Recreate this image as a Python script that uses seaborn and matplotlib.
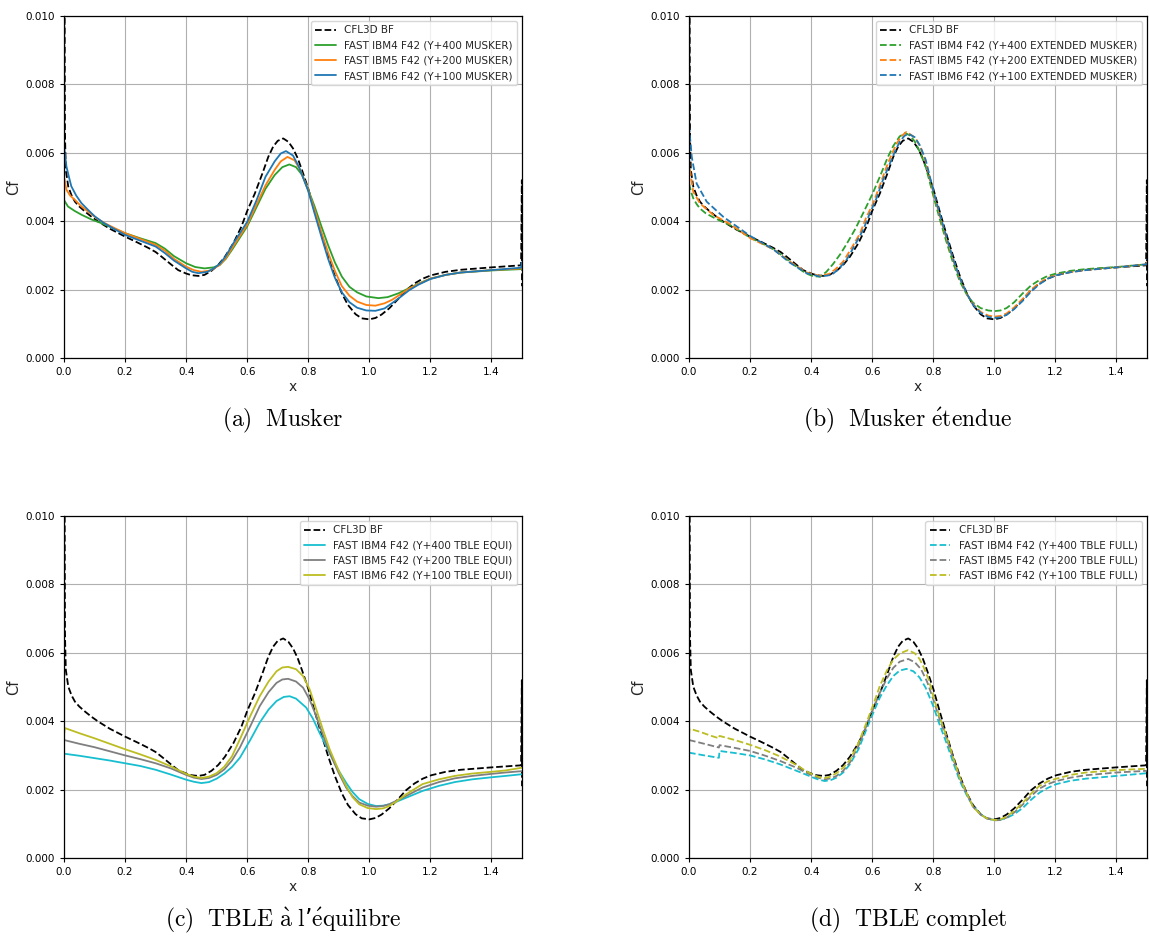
import matplotlib
matplotlib.use("Agg")
import matplotlib.pyplot as plt
import matplotlib.ticker as mticker
import seaborn as sns

# CFL3D reference (same curve in every panel)
x_ref = [0.0, 0.001, 0.003, 0.006, 0.014, 0.025, 0.036, 0.05, 0.069, 0.09, 0.112, 0.15, 0.2, 0.24,
         0.276, 0.3, 0.32, 0.35, 0.374, 0.4, 0.418, 0.44, 0.46, 0.483, 0.505, 0.527, 0.555, 0.581,
         0.6, 0.625, 0.65, 0.669, 0.685, 0.7, 0.718, 0.735, 0.75, 0.765, 0.78, 0.8, 0.82, 0.843,
         0.865, 0.887, 0.91, 0.93, 0.955, 0.975, 1.0, 1.02, 1.04, 1.065, 1.094, 1.12, 1.148, 1.175,
         1.203, 1.25, 1.3, 1.4, 1.497, 1.4995, 1.5]
cf_ref = [0.0, 0.012, 0.0066, 0.0055, 0.00501, 0.00475, 0.00457, 0.00443, 0.00428, 0.00413,
          0.00399, 0.00378, 0.00355, 0.00338, 0.00322, 0.0031, 0.00296, 0.00274, 0.00257, 0.00247,
          0.00242, 0.0024, 0.00243, 0.00255, 0.00272, 0.00296, 0.00336, 0.00384, 0.0043, 0.00481,
          0.0054, 0.00588, 0.00618, 0.00635, 0.00642, 0.00632, 0.00613, 0.00585, 0.00548, 0.00495,
          0.00432, 0.00362, 0.00298, 0.0024, 0.00189, 0.00155, 0.00128, 0.00116, 0.00113, 0.00117,
          0.00127, 0.00145, 0.00172, 0.00198, 0.00218, 0.00232, 0.00242, 0.00252, 0.00258, 0.00265,
          0.00271, 0.0052, 0.0021]

# (a) Musker
x_a4 = [0.0, 0.013, 0.035, 0.057, 0.09, 0.123, 0.16, 0.2, 0.25, 0.3, 0.33, 0.36, 0.4, 0.43, 0.46,
        0.49, 0.51, 0.53, 0.553, 0.6, 0.63, 0.66, 0.69, 0.715, 0.738, 0.76, 0.78, 0.8, 0.82, 0.843,
        0.865, 0.887, 0.91, 0.935, 0.96, 0.99, 1.03, 1.06, 1.095, 1.13, 1.16, 1.2, 1.25, 1.3, 1.4, 1.5]
cf_a4 = [0.00462, 0.00443, 0.0043, 0.00419, 0.00405, 0.00394, 0.0038, 0.00365, 0.0035, 0.00336,
         0.0032, 0.00298, 0.00277, 0.00266, 0.00262, 0.00265, 0.00272, 0.0029, 0.0032, 0.00385,
         0.0044, 0.00495, 0.00535, 0.00558, 0.00566, 0.00558, 0.00535, 0.00492, 0.00445, 0.00385,
         0.0033, 0.0028, 0.00238, 0.00208, 0.00192, 0.0018, 0.00175, 0.00178, 0.00189, 0.00204,
         0.00217, 0.00232, 0.00243, 0.0025, 0.00256, 0.0026]
x_a5 = [0.0, 0.008, 0.02, 0.035, 0.055, 0.079, 0.105, 0.134, 0.165, 0.2, 0.25, 0.3, 0.33, 0.36, 0.4,
        0.425, 0.45, 0.48, 0.51, 0.53, 0.553, 0.6, 0.63, 0.66, 0.69, 0.71, 0.732, 0.755, 0.775, 0.8,
        0.82, 0.843, 0.865, 0.887, 0.91, 0.935, 0.96, 0.99, 1.02, 1.05, 1.074, 1.1, 1.13, 1.16, 1.2,
        1.25, 1.3, 1.4, 1.5]
cf_a5 = [0.0053, 0.00492, 0.00475, 0.00463, 0.00445, 0.00428, 0.0041, 0.00394, 0.0038, 0.00365,
         0.00348, 0.00331, 0.00314, 0.0029, 0.00267, 0.00257, 0.00252, 0.00256, 0.00272, 0.00292,
         0.00325, 0.0039, 0.00448, 0.00505, 0.0055, 0.00575, 0.00588, 0.00578, 0.00548, 0.0049,
         0.00435, 0.00368, 0.00308, 0.00255, 0.0021, 0.00182, 0.00165, 0.00155, 0.00153, 0.0016,
         0.0017, 0.00185, 0.00203, 0.00216, 0.00232, 0.00243, 0.0025, 0.00257, 0.00262]
x_a6 = [0.0, 0.008, 0.016, 0.024, 0.04, 0.057, 0.08, 0.101, 0.13, 0.165, 0.2, 0.25, 0.3, 0.33, 0.36,
        0.4, 0.42, 0.44, 0.47, 0.49, 0.51, 0.53, 0.553, 0.6, 0.63, 0.66, 0.69, 0.71, 0.727, 0.75,
        0.77, 0.8, 0.82, 0.843, 0.865, 0.887, 0.91, 0.935, 0.96, 0.99, 1.02, 1.05, 1.074, 1.1, 1.13,
        1.16, 1.2, 1.25, 1.3, 1.4, 1.497, 1.5]
cf_a6 = [0.0062, 0.0056, 0.0053, 0.00502, 0.00475, 0.00453, 0.00432, 0.00414, 0.00395, 0.00377,
         0.0036, 0.00343, 0.00326, 0.00307, 0.00285, 0.00262, 0.00252, 0.00248, 0.00252, 0.00262,
         0.00275, 0.00298, 0.00333, 0.00398, 0.0046, 0.0053, 0.00575, 0.00598, 0.00605, 0.00592,
         0.00558, 0.00488, 0.00425, 0.00355, 0.0029, 0.00235, 0.00192, 0.00163, 0.00147, 0.00139,
         0.00138, 0.00145, 0.0016, 0.00177, 0.00198, 0.00214, 0.00231, 0.00243, 0.0025, 0.00257,
         0.00264, 0.0028]

# (b) Musker etendue
x_b4 = [0.0, 0.007, 0.014, 0.025, 0.036, 0.055, 0.08, 0.105, 0.134, 0.165, 0.2, 0.24, 0.276, 0.3,
        0.33, 0.355, 0.374, 0.39, 0.407, 0.429, 0.45, 0.472, 0.495, 0.516, 0.545, 0.57, 0.6, 0.625,
        0.65, 0.669, 0.69, 0.708, 0.725, 0.74, 0.756, 0.775, 0.8, 0.82, 0.843, 0.865, 0.887, 0.91,
        0.93, 0.955, 0.98, 1.0, 1.02, 1.04, 1.065, 1.094, 1.12, 1.148, 1.175, 1.203, 1.25, 1.3, 1.4,
        1.498, 1.5]
cf_b4 = [0.0051, 0.00485, 0.00467, 0.0045, 0.00437, 0.00423, 0.00411, 0.004, 0.00389, 0.00372,
         0.00352, 0.00335, 0.00318, 0.00303, 0.00282, 0.00265, 0.00253, 0.00245, 0.00239, 0.00238,
         0.00252, 0.00275, 0.00303, 0.00333, 0.00378, 0.00423, 0.00478, 0.0053, 0.00585, 0.0062,
         0.00648, 0.00658, 0.0065, 0.00632, 0.00603, 0.0056, 0.00475, 0.0041, 0.0034, 0.00278,
         0.00224, 0.00185, 0.00162, 0.00146, 0.00139, 0.00137, 0.00139, 0.00146, 0.00163, 0.0019,
         0.00212, 0.00228, 0.0024, 0.00247, 0.00255, 0.0026, 0.00266, 0.00274, 0.0028]
x_b5 = [0.0, 0.003, 0.014, 0.036, 0.08, 0.134, 0.2, 0.276, 0.33, 0.385, 0.429, 0.46, 0.48, 0.505,
        0.53, 0.56, 0.58, 0.603, 0.625, 0.647, 0.665, 0.68, 0.695, 0.712, 0.74, 0.756, 0.775, 0.8,
        0.82, 0.843, 0.865, 0.887, 0.91, 0.93, 0.955, 0.98, 1.0, 1.02, 1.04, 1.065, 1.094, 1.12,
        1.148, 1.175, 1.203, 1.25, 1.3, 1.4, 1.498, 1.5]
cf_b5 = [0.0058, 0.0055, 0.00486, 0.00452, 0.00418, 0.00392, 0.00351, 0.00318, 0.00282, 0.0025,
         0.0024, 0.00246, 0.0026, 0.00282, 0.00318, 0.00364, 0.0041, 0.00452, 0.00505, 0.00559,
         0.00598, 0.00627, 0.00648, 0.00661, 0.00645, 0.0062, 0.00575, 0.00485, 0.0042, 0.0035,
         0.00287, 0.00232, 0.00187, 0.00158, 0.00135, 0.00124, 0.00121, 0.00123, 0.0013, 0.00148,
         0.00174, 0.00199, 0.0022, 0.00234, 0.00243, 0.00251, 0.00257, 0.00265, 0.00274, 0.0029]
x_b6 = [0.0, 0.009, 0.025, 0.058, 0.112, 0.2, 0.276, 0.33, 0.385, 0.429, 0.467, 0.49, 0.516, 0.54,
        0.57, 0.59, 0.614, 0.635, 0.658, 0.675, 0.69, 0.705, 0.718, 0.74, 0.756, 0.775, 0.8, 0.82,
        0.843, 0.865, 0.887, 0.91, 0.93, 0.955, 0.98, 1.0, 1.02, 1.04, 1.065, 1.094, 1.12, 1.148,
        1.175, 1.203, 1.25, 1.3, 1.4, 1.498, 1.5]
cf_b6 = [0.0068, 0.00588, 0.0051, 0.00457, 0.00413, 0.00357, 0.00318, 0.00279, 0.00248, 0.00238,
         0.00243, 0.0026, 0.00287, 0.00325, 0.00374, 0.00418, 0.00467, 0.0052, 0.00569, 0.00605,
         0.00632, 0.00649, 0.00656, 0.00645, 0.00622, 0.0058, 0.0049, 0.00425, 0.00355, 0.0029,
         0.00234, 0.00188, 0.00156, 0.00132, 0.0012, 0.00117, 0.00119, 0.00126, 0.00143, 0.00168,
         0.00194, 0.00216, 0.00232, 0.00242, 0.00251, 0.00257, 0.00265, 0.00274, 0.0029]

# (c) TBLE a l'equilibre
x_c4 = [0.0, 0.05, 0.1, 0.15, 0.2, 0.25, 0.3, 0.35, 0.4, 0.425, 0.45, 0.475, 0.5, 0.525, 0.55,
        0.576, 0.61, 0.641, 0.67, 0.696, 0.72, 0.739, 0.76, 0.793, 0.815, 0.837, 0.86, 0.88, 0.9,
        0.924, 0.945, 0.967, 0.995, 1.022, 1.045, 1.065, 1.09, 1.12, 1.174, 1.228, 1.28, 1.337,
        1.4, 1.446, 1.5]
cf_c4 = [0.00305, 0.00299, 0.00292, 0.00285, 0.00277, 0.00269, 0.00258, 0.00244, 0.00229,
         0.00223, 0.00219, 0.00222, 0.00232, 0.00247, 0.00266, 0.00293, 0.00345, 0.00396, 0.00434,
         0.00459, 0.00471, 0.00473, 0.00466, 0.0044, 0.00408, 0.00366, 0.00325, 0.00289, 0.00255,
         0.0022, 0.00193, 0.00172, 0.00158, 0.00152, 0.00153, 0.00157, 0.00165, 0.00176, 0.00196,
         0.00211, 0.00222, 0.0023, 0.00236, 0.0024, 0.00245]
x_c5 = [0.0, 0.05, 0.1, 0.15, 0.2, 0.25, 0.3, 0.35, 0.4, 0.425, 0.45, 0.475, 0.5, 0.525, 0.55,
        0.576, 0.61, 0.641, 0.67, 0.696, 0.715, 0.734, 0.76, 0.783, 0.805, 0.826, 0.848, 0.87, 0.9,
        0.924, 0.945, 0.967, 0.995, 1.022, 1.045, 1.065, 1.09, 1.12, 1.174, 1.228, 1.28, 1.337,
        1.4, 1.446, 1.5]
cf_c5 = [0.00345, 0.00334, 0.00324, 0.00312, 0.003, 0.00289, 0.00277, 0.00262, 0.00243, 0.00235,
         0.00231, 0.00234, 0.00243, 0.00259, 0.00285, 0.00323, 0.00385, 0.00444, 0.00485, 0.00512,
         0.00522, 0.00524, 0.00516, 0.00498, 0.00462, 0.00415, 0.0036, 0.00308, 0.00248, 0.00206,
         0.00181, 0.00162, 0.00153, 0.0015, 0.00152, 0.00157, 0.00168, 0.00181, 0.00206, 0.00222,
         0.00233, 0.0024, 0.00246, 0.0025, 0.00254]
x_c6 = [0.0, 0.003, 0.05, 0.1, 0.15, 0.2, 0.25, 0.3, 0.35, 0.4, 0.425, 0.45, 0.475, 0.5, 0.525,
        0.55, 0.576, 0.61, 0.641, 0.67, 0.696, 0.715, 0.734, 0.76, 0.783, 0.805, 0.826, 0.848, 0.87,
        0.9, 0.924, 0.945, 0.967, 0.995, 1.022, 1.045, 1.065, 1.09, 1.12, 1.174, 1.228, 1.28, 1.337,
        1.4, 1.446, 1.5]
cf_c6 = [0.0036, 0.0038, 0.00365, 0.0035, 0.00334, 0.00318, 0.00303, 0.00287, 0.00268, 0.00246,
         0.00238, 0.00234, 0.00238, 0.00248, 0.00267, 0.00297, 0.00347, 0.00415, 0.00473, 0.00516,
         0.00546, 0.00557, 0.00559, 0.00552, 0.00532, 0.00492, 0.00435, 0.00375, 0.00318, 0.00255,
         0.00211, 0.00178, 0.00157, 0.00146, 0.00143, 0.00145, 0.00152, 0.00166, 0.00186, 0.00216,
         0.0023, 0.0024, 0.00247, 0.00252, 0.00256, 0.00264]

# (d) TBLE complet
x_d4 = [0.0, 0.05, 0.098, 0.1, 0.15, 0.2, 0.25, 0.298, 0.352, 0.38, 0.407, 0.425, 0.445, 0.465,
        0.483, 0.505, 0.527, 0.555, 0.581, 0.605, 0.625, 0.648, 0.669, 0.69, 0.712, 0.735, 0.755,
        0.775, 0.8, 0.82, 0.843, 0.865, 0.887, 0.91, 0.93, 0.955, 0.975, 1.0, 1.02, 1.04, 1.065,
        1.094, 1.12, 1.148, 1.175, 1.203, 1.25, 1.3, 1.4, 1.5]
cf_d4 = [0.00308, 0.003, 0.00293, 0.00313, 0.00307, 0.003, 0.00288, 0.00274, 0.00255, 0.00245,
         0.00235, 0.00229, 0.00225, 0.00228, 0.00235, 0.0025, 0.00274, 0.00318, 0.00376, 0.00428,
         0.00469, 0.00505, 0.00532, 0.00548, 0.00553, 0.00546, 0.00528, 0.00498, 0.00444, 0.00392,
         0.00337, 0.0028, 0.00225, 0.00183, 0.00152, 0.00128, 0.00116, 0.00111, 0.00112, 0.00117,
         0.00128, 0.00147, 0.0017, 0.00191, 0.00205, 0.00216, 0.00226, 0.00232, 0.0024, 0.00248]
x_d5 = [0.0, 0.05, 0.098, 0.1, 0.15, 0.2, 0.25, 0.298, 0.352, 0.38, 0.407, 0.425, 0.445, 0.465,
        0.483, 0.505, 0.527, 0.555, 0.581, 0.605, 0.625, 0.648, 0.669, 0.69, 0.718, 0.74, 0.76,
        0.78, 0.8, 0.82, 0.843, 0.865, 0.887, 0.91, 0.93, 0.955, 0.975, 1.0, 1.02, 1.04, 1.065,
        1.094, 1.12, 1.148, 1.175, 1.203, 1.25, 1.3, 1.4, 1.5]
cf_d5 = [0.00345, 0.00334, 0.00323, 0.0033, 0.00322, 0.00313, 0.00299, 0.00284, 0.00264, 0.00251,
         0.0024, 0.00234, 0.0023, 0.00233, 0.0024, 0.00255, 0.00279, 0.00328, 0.00386, 0.0044,
         0.00483, 0.00525, 0.00556, 0.00574, 0.00582, 0.00572, 0.00552, 0.00515, 0.00464, 0.00408,
         0.00352, 0.00291, 0.00233, 0.00187, 0.0015, 0.00127, 0.00116, 0.0011, 0.00111, 0.00118,
         0.00133, 0.00157, 0.00181, 0.00203, 0.00216, 0.00225, 0.00235, 0.00242, 0.0025, 0.00255]
x_d6 = [0.0, 0.002, 0.036, 0.07, 0.098, 0.1, 0.15, 0.2, 0.25, 0.298, 0.352, 0.38, 0.407, 0.425,
        0.44, 0.46, 0.483, 0.505, 0.527, 0.555, 0.581, 0.605, 0.625, 0.648, 0.669, 0.69, 0.718,
        0.74, 0.755, 0.767, 0.785, 0.8, 0.82, 0.843, 0.865, 0.887, 0.91, 0.93, 0.955, 0.975, 1.0,
        1.02, 1.04, 1.065, 1.094, 1.12, 1.148, 1.175, 1.203, 1.25, 1.3, 1.4, 1.5]
cf_d6 = [0.0036, 0.00378, 0.00369, 0.00358, 0.0035, 0.00357, 0.00345, 0.00331, 0.00315, 0.00297,
         0.00272, 0.00256, 0.00243, 0.00237, 0.00233, 0.00237, 0.00248, 0.00264, 0.00287, 0.00336,
         0.00395, 0.00452, 0.00503, 0.00548, 0.0058, 0.00598, 0.00608, 0.00598, 0.00582, 0.00561,
         0.00522, 0.00473, 0.00414, 0.00357, 0.00294, 0.00235, 0.00188, 0.0015, 0.00127, 0.00116,
         0.00111, 0.00113, 0.00121, 0.00138, 0.00162, 0.00188, 0.00211, 0.00224, 0.00232, 0.00243,
         0.0025, 0.00257, 0.00261]

ref_label = "CFL3D BF"
labels_a = ["FAST IBM4 F42 (Y+400 MUSKER)", "FAST IBM5 F42 (Y+200 MUSKER)", "FAST IBM6 F42 (Y+100 MUSKER)"]
labels_b = ["FAST IBM4 F42 (Y+400 EXTENDED MUSKER)", "FAST IBM5 F42 (Y+200 EXTENDED MUSKER)",
            "FAST IBM6 F42 (Y+100 EXTENDED MUSKER)"]
labels_c = ["FAST IBM4 F42 (Y+400 TBLE EQUI)", "FAST IBM5 F42 (Y+200 TBLE EQUI)", "FAST IBM6 F42 (Y+100 TBLE EQUI)"]
labels_d = ["FAST IBM4 F42 (Y+400 TBLE FULL)", "FAST IBM5 F42 (Y+200 TBLE FULL)", "FAST IBM6 F42 (Y+100 TBLE FULL)"]

captions = [r"$\mathrm{(a)\ \ Musker}$",
            r"$\mathrm{(b)\ \ Musker\ \acute{e}tendue}$",
            r"$\mathrm{(c)\ \ TBLE\ \grave{a}\ l}$" + "\u2019" + r"$\mathrm{\acute{e}quilibre}$",
            r"$\mathrm{(d)\ \ TBLE\ complet}$"]

sns.set_style("ticks", {"axes.grid": True, "grid.color": "#b0b0b0", "axes.edgecolor": "black",
                        "xtick.direction": "out", "ytick.direction": "out"})
plt.rcParams["mathtext.fontset"] = "cm"
plt.rcParams["font.family"] = ["DejaVu Sans"]

fig = plt.figure(figsize=(11.49, 9.36), dpi=100)
W, H = 1149, 936
boxes = [(64, 16), (689, 16), (64, 516), (689, 516)]
aw, ah = 458, 342

panels = [
    ([(x_a4, cf_a4), (x_a5, cf_a5), (x_a6, cf_a6)], labels_a, ["#2ca02c", "#ff7f0e", "#1f77b4"], "-"),
    ([(x_b4, cf_b4), (x_b5, cf_b5), (x_b6, cf_b6)], labels_b, ["#2ca02c", "#ff7f0e", "#1f77b4"], "--"),
    ([(x_c4, cf_c4), (x_c5, cf_c5), (x_c6, cf_c6)], labels_c, ["#17becf", "#7f7f7f", "#bcbd22"], "-"),
    ([(x_d4, cf_d4), (x_d5, cf_d5), (x_d6, cf_d6)], labels_d, ["#17becf", "#7f7f7f", "#bcbd22"], "--"),
]

for (left, top), (series, labels, colors, ls), cap in zip(boxes, panels, captions):
    ax = fig.add_axes([left / W, 1 - (top + ah) / H, aw / W, ah / H])
    sns.lineplot(x=x_ref, y=cf_ref, ax=ax, color="black", linestyle="--", lw=1.3,
                 sort=False, estimator=None, label=ref_label)
    for (xs, ys), lab, c in zip(series, labels, colors):
        sns.lineplot(x=xs, y=ys, ax=ax, color=c, linestyle=ls, lw=1.3,
                     sort=False, estimator=None, label=lab)
    ax.set_xlim(0, 1.5)
    ax.set_ylim(0, 0.010)
    ax.set_xticks([0.0, 0.2, 0.4, 0.6, 0.8, 1.0, 1.2, 1.4])
    ax.set_yticks([0.0, 0.002, 0.004, 0.006, 0.008, 0.010])
    ax.xaxis.set_major_formatter(mticker.FormatStrFormatter("%.1f"))
    ax.yaxis.set_major_formatter(mticker.FormatStrFormatter("%.3f"))
    ax.tick_params(labelsize=7.5, length=3, width=0.8, colors="black")
    ax.grid(True, color="#b0b0b0", lw=0.8)
    for s in ax.spines.values():
        s.set_linewidth(0.9)
        s.set_color("black")
    ax.set_xlabel("x", fontsize=10, labelpad=2)
    ax.set_ylabel("Cf", fontsize=10.5, labelpad=3)
    ax.legend(loc="upper right", fontsize=7.5, frameon=True, framealpha=0.8,
              edgecolor="#cccccc", fancybox=True, borderaxespad=0.5)
    cx = (left - 10 + aw / 2) / W
    cy = 1 - (top + ah + 62) / H
    fig.text(cx, cy, cap, ha="center", va="center", fontsize=17, color="black")

fig.savefig("out.png", dpi=100)
